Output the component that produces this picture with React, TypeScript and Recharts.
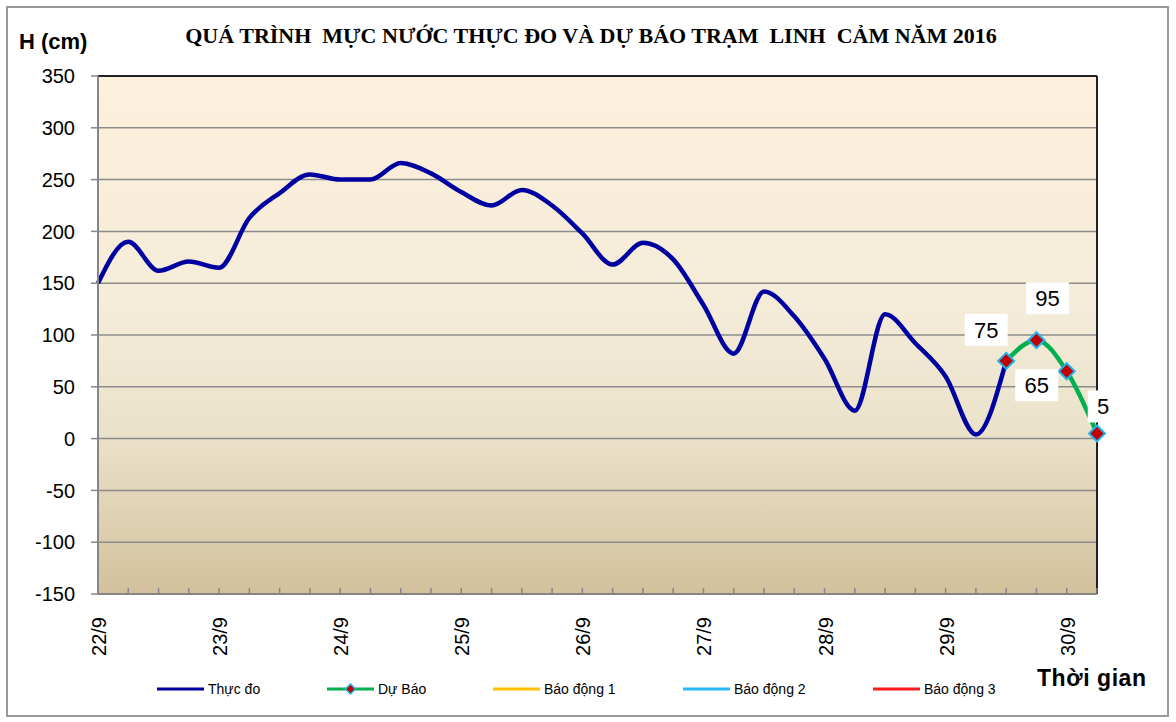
import React from "react";
import {
  LineChart,
  Line,
  XAxis,
  YAxis,
  CartesianGrid,
  Legend,
  ReferenceLine,
  Label,
} from "recharts";

// 6-hourly steps from 22/9 00h to 30/9 06h
const days = ["22/9", "23/9", "24/9", "25/9", "26/9", "27/9", "28/9", "29/9", "30/9"];
const hours = ["", " 06h", " 12h", " 18h"];

// measured water level (cm)
const observed = [
  150, 190, 162, 171, 165, 213, 237, 255, 250, 250, 266, 256, 238, 225, 240, 225,
  198, 168, 189, 173, 129, 82, 142, 118, 77, 27, 120, 92, 60, 4, 75,
];

// forecast, starting at the last measured step
const forecastStart = 30;
const forecast = [75, 95, 65, 5];

const yTicks = [-150, -100, -50, 0, 50, 100, 150, 200, 250, 300, 350];

const seriesNames = ["Thực đo", "Dự Báo", "Báo động 1", "Báo động 2", "Báo động 3"];

const timeLabels = days.flatMap((d) => hours.map((h) => d + h)).slice(0, forecastStart + forecast.length);

const data = timeLabels.map((t, k) => ({
  t,
  observed: k < observed.length ? observed[k] : null,
  forecast: k >= forecastStart ? forecast[k - forecastStart] : null,
}));

const FONT = "'Liberation Sans', Arial, sans-serif";

const TimeTick = (props: any) => {
  const { x, y, payload } = props;
  const label: string = payload.value;
  const isDay = !label.includes(" ");
  return (
    <g>
      <line x1={x} y1={y - 1} x2={x} y2={y - 6} stroke="#868686" strokeWidth={1.5} />
      {isDay && (
        <text
          transform={`translate(${x + 8},${y + 23}) rotate(-90)`}
          textAnchor="end"
          fontSize={20}
          fontFamily={FONT}
          fill="#000"
        >
          {label}
        </text>
      )}
    </g>
  );
};

const Diamond = (props: any) => {
  const { cx, cy } = props;
  if (cx == null || cy == null) return null;
  const r = 8;
  return (
    <path
      d={`M${cx},${cy - r} L${cx + r},${cy} L${cx},${cy + r} L${cx - r},${cy} Z`}
      fill="#C00000"
      stroke="#1EB4F0"
      strokeWidth={2}
    />
  );
};

// where Excel put each data label relative to its marker
const labelShift: Record<number, [number, number]> = {
  30: [-20, -31],
  31: [11, -42],
  32: [-30, 14],
  33: [6, -27],
};

const ForecastLabel = (props: any) => {
  const { x, y, value, index } = props;
  if (value == null) return null;
  const [dx, dy] = labelShift[forecastStart + index] ?? labelShift[index] ?? [0, -25];
  const text = String(value);
  const w = text.length * 12.5 + 18;
  const h = 32;
  const cx = x + dx;
  const cy = y + dy;
  return (
    <g>
      <rect x={cx - w / 2} y={cy - h / 2} width={w} height={h} fill="#fff" />
      <text x={cx} y={cy + 8} textAnchor="middle" fontSize={22} fontFamily={FONT} fill="#000">
        {text}
      </text>
    </g>
  );
};

const legendLeft = [157, 327, 493, 683, 873];

const renderLegend = (props: any) => {
  const items = [...(props.payload ?? [])].sort(
    (a: any, b: any) => seriesNames.indexOf(a.value) - seriesNames.indexOf(b.value)
  );
  return (
    <div style={{ position: "relative", height: 0 }}>
      {items.map((it: any, i: number) => (
        <div
          key={i}
          style={{
            position: "absolute",
            left: legendLeft[i],
            top: 0,
            display: "flex",
            alignItems: "center",
            whiteSpace: "nowrap",
          }}
        >
          <svg width={47} height={14}>
            <line x1={0} y1={7} x2={47} y2={7} stroke={it.color} strokeWidth={3} />
            {it.value === "Dự Báo" && (
              <path d="M23.5,2 L28.5,7 L23.5,12 L18.5,7 Z" fill="#C00000" stroke="#1EB4F0" strokeWidth={1.5} />
            )}
          </svg>
          <span style={{ marginLeft: 4, fontSize: 14, fontFamily: FONT, color: "#000" }}>{it.value}</span>
        </div>
      ))}
    </div>
  );
};

export default function App() {
  return (
    <div style={{ position: "absolute", left: 0, top: 0, width: 1176, height: 722, background: "#fff" }}>
      <div
        style={{
          position: "absolute",
          left: 6,
          top: 6,
          width: 1163,
          height: 711,
          border: "2px solid #9a9a9a",
          boxSizing: "border-box",
        }}
      />
      <div
        style={{
          position: "absolute",
          left: 0,
          width: 1182,
          top: 23,
          textAlign: "center",
          fontFamily: "'Liberation Serif', 'Times New Roman', serif",
          fontWeight: "bold",
          fontSize: 22,
          lineHeight: "26px",
          whiteSpace: "pre",
          color: "#000",
        }}
      >
        QUÁ TRÌNH  MỰC NƯỚC THỰC ĐO VÀ DỰ BÁO TRẠM  LINH  CẢM NĂM 2016
      </div>
      <LineChart
        width={1176}
        height={722}
        data={data}
        margin={{ top: 76, right: 79, bottom: 0, left: 0 }}
        style={{ position: "absolute", left: 0, top: 0 }}
      >
        <defs>
          <linearGradient id="plotBg" x1="0" y1="0" x2="0" y2="1">
            <stop offset="0%" stopColor="#FDF0DC" />
            <stop offset="45%" stopColor="#F4ECD9" />
            <stop offset="70%" stopColor="#EAE1C9" />
            <stop offset="100%" stopColor="#D3C19D" />
          </linearGradient>
        </defs>
        <CartesianGrid vertical={false} stroke="#8c8c8c" strokeWidth={1.5} fill="url(#plotBg)" fillOpacity={1} />
        <XAxis
          dataKey="t"
          interval={0}
          height={128}
          tickSize={0}
          tickMargin={0}
          tick={<TimeTick />}
          axisLine={{ stroke: "#868686", strokeWidth: 2 }}
        >
          <Label
            content={() => (
              <text x={1037} y={686} fontSize={23} fontWeight="bold" fontFamily={FONT} fill="#000" textLength={109}>
                Thời gian
              </text>
            )}
          />
        </XAxis>
        <YAxis
          width={98}
          domain={[-150, 350]}
          ticks={yTicks}
          interval={0}
          tickSize={7}
          tickMargin={16}
          allowDataOverflow
          tick={{ fontSize: 20, fontFamily: FONT, fill: "#000" }}
          axisLine={{ stroke: "#868686", strokeWidth: 2 }}
          tickLine={{ stroke: "#868686", strokeWidth: 1.5 }}
        >
          <Label
            content={() => (
              <text x={19} y={49} fontSize={22} fontWeight="bold" fontFamily={FONT} fill="#000">
                H (cm)
              </text>
            )}
          />
        </YAxis>
        <ReferenceLine y={350} stroke="#222" strokeWidth={2} />
        <ReferenceLine x={timeLabels[timeLabels.length - 1]} stroke="#222" strokeWidth={2} />
        <Line
          name={seriesNames[0]}
          dataKey="observed"
          type="monotone"
          stroke="#0000A0"
          strokeWidth={4.5}
          dot={false}
          activeDot={false}
          isAnimationActive={false}
        />
        <Line
          name={seriesNames[1]}
          dataKey="forecast"
          type="monotone"
          stroke="#00B050"
          strokeWidth={4.5}
          dot={<Diamond />}
          activeDot={false}
          label={<ForecastLabel />}
          isAnimationActive={false}
        />
        <Line name={seriesNames[2]} dataKey="bd1" stroke="#FFC000" dot={false} isAnimationActive={false} />
        <Line name={seriesNames[3]} dataKey="bd2" stroke="#29B6F6" dot={false} isAnimationActive={false} />
        <Line name={seriesNames[4]} dataKey="bd3" stroke="#FF1A1A" dot={false} isAnimationActive={false} />
        <Legend
          verticalAlign="bottom"
          content={renderLegend}
          wrapperStyle={{ left: 0, top: 681, bottom: "auto", width: 1176, height: 0 }}
        />
      </LineChart>
    </div>
  );
}
